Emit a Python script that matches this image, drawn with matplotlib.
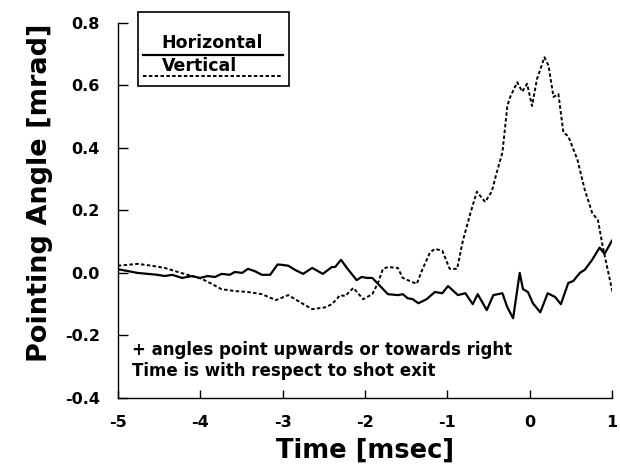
import matplotlib
matplotlib.use("Agg")
import matplotlib.pyplot as plt
from matplotlib.patches import Rectangle

plt.rcParams['font.family'] = ['DejaVu Sans']
plt.rcParams['font.weight'] = 'bold'
plt.rcParams['axes.unicode_minus'] = False

# Horizontal pointing angle (solid)
t_horiz = [-5.0, -4.88, -4.76, -4.64, -4.52, -4.43, -4.34, -4.22, -4.10, -4.0,
           -3.91, -3.82, -3.74, -3.64, -3.58, -3.49, -3.42, -3.34, -3.25, -3.15,
           -3.06, -3.01, -2.93, -2.85, -2.75, -2.64, -2.51, -2.40, -2.36, -2.29,
           -2.21, -2.10, -2.04, -1.97, -1.91, -1.84, -1.72, -1.60, -1.54, -1.48,
           -1.42, -1.35, -1.25, -1.15, -1.06, -0.99, -0.87, -0.78, -0.69, -0.63,
           -0.52, -0.44, -0.33, -0.27, -0.20, -0.12, -0.08, -0.02, 0.04, 0.13,
           0.22, 0.31, 0.38, 0.47, 0.53, 0.61, 0.67, 0.76, 0.85, 0.91, 1.0]
horiz = [0.012, 0.006, 0.0, -0.003, -0.006, -0.010, -0.006, -0.016, -0.010, -0.016,
         -0.010, -0.013, -0.003, -0.006, 0.003, 0.0, 0.013, 0.006, -0.006, -0.006,
         0.027, 0.026, 0.023, 0.010, -0.003, 0.016, -0.003, 0.019, 0.019, 0.042,
         0.013, -0.023, -0.013, -0.016, -0.016, -0.035, -0.068, -0.071, -0.068, -0.081,
         -0.084, -0.097, -0.084, -0.061, -0.065, -0.042, -0.071, -0.065, -0.100, -0.068,
         -0.119, -0.071, -0.065, -0.110, -0.145, 0.0, -0.052, -0.061, -0.097, -0.126,
         -0.065, -0.077, -0.100, -0.032, -0.026, 0.0, 0.010, 0.042, 0.081, 0.061, 0.103]

# Vertical pointing angle (dashed)
t_vert = [-5.0, -4.88, -4.76, -4.59, -4.43, -4.27, -4.10, -3.98, -3.86, -3.74,
          -3.58, -3.42, -3.25, -3.08, -2.93, -2.81, -2.64, -2.48, -2.40, -2.30,
          -2.24, -2.14, -2.02, -1.91, -1.84, -1.78, -1.72, -1.60, -1.54, -1.48,
          -1.37, -1.31, -1.21, -1.15, -1.06, -0.97, -0.88, -0.81, -0.72, -0.64,
          -0.58, -0.54, -0.46, -0.40, -0.33, -0.27, -0.24, -0.15, -0.09, -0.03,
          0.03, 0.09, 0.18, 0.23, 0.29, 0.35, 0.41, 0.47, 0.58, 0.67, 0.76,
          0.83, 0.89, 1.01]
vert = [0.023, 0.026, 0.029, 0.023, 0.016, 0.003, -0.010, -0.019, -0.035, -0.052,
        -0.058, -0.061, -0.068, -0.087, -0.071, -0.090, -0.116, -0.110, -0.100, -0.071,
        -0.074, -0.048, -0.084, -0.068, -0.032, 0.013, 0.019, 0.016, -0.016, -0.023,
        -0.035, 0.006, 0.065, 0.077, 0.071, 0.013, 0.013, 0.103, 0.190, 0.260,
        0.240, 0.227, 0.260, 0.320, 0.385, 0.534, 0.560, 0.610, 0.580, 0.605,
        0.534, 0.620, 0.690, 0.663, 0.563, 0.572, 0.450, 0.437, 0.363, 0.266, 0.192,
        0.169, 0.082, -0.065]

x_ticks = [-5, -4, -3, -2, -1, 0, 1]
y_ticks = [-0.4, -0.2, 0.0, 0.2, 0.4, 0.6, 0.8]
y_tick_labels = ['-0.4', '-0.2', '0.0', '0.2', '0.4', '0.6', '0.8']

solid_style = dict(color='black', lw=1.6, linestyle='-')
dash_style = dict(color='black', lw=1.4, linestyle=(0, (1.8, 1.2)))

fig = plt.figure(figsize=(6.2, 4.66), dpi=100)
ax = fig.add_axes([0.190, 0.146, 0.797, 0.805])

ax.plot(t_horiz, horiz, **solid_style)
ax.plot(t_vert, vert, **dash_style)

ax.set_xlim(-5, 1)
ax.set_ylim(-0.4, 0.8)
ax.set_xticks(x_ticks)
ax.set_yticks(y_ticks)
ax.set_yticklabels(y_tick_labels)
ax.spines['top'].set_visible(False)
ax.spines['right'].set_visible(False)
ax.spines['left'].set_linewidth(1.0)
ax.spines['bottom'].set_linewidth(1.0)
ax.tick_params(axis='y', direction='in', length=7, width=1, pad=13, labelsize=11.5)
ax.tick_params(axis='x', direction='in', length=6, width=1, pad=12, labelsize=11.5)

ax.set_xlabel('Time [msec]', fontsize=18.5, fontweight='bold', labelpad=6)
ax.set_ylabel('Pointing Angle [mrad]', fontsize=19.5, fontweight='bold')
ax.yaxis.set_label_coords(-0.132, 0.547)

# hand-drawn style legend box
ax.add_patch(Rectangle((0.040, 0.832), 0.306, 0.197, transform=ax.transAxes,
                       fill=False, edgecolor='black', lw=1.2, clip_on=False))
ax.plot([0.051, 0.334], [0.915, 0.915], transform=ax.transAxes, clip_on=False,
        **solid_style)
ax.plot([0.051, 0.334], [0.859, 0.859], transform=ax.transAxes, clip_on=False,
        **dash_style)
ax.text(0.089, 0.945, 'Horizontal', transform=ax.transAxes, fontsize=12.5,
        fontweight='bold', va='center', ha='left')
ax.text(0.089, 0.886, 'Vertical', transform=ax.transAxes, fontsize=12.5,
        fontweight='bold', va='center', ha='left')

ax.text(0.028, 0.128, '+ angles point upwards or towards right',
        transform=ax.transAxes, fontsize=12, fontweight='bold', va='center')
ax.text(0.028, 0.072, 'Time is with respect to shot exit',
        transform=ax.transAxes, fontsize=12, fontweight='bold', va='center')

fig.savefig('out.png', dpi=100)
